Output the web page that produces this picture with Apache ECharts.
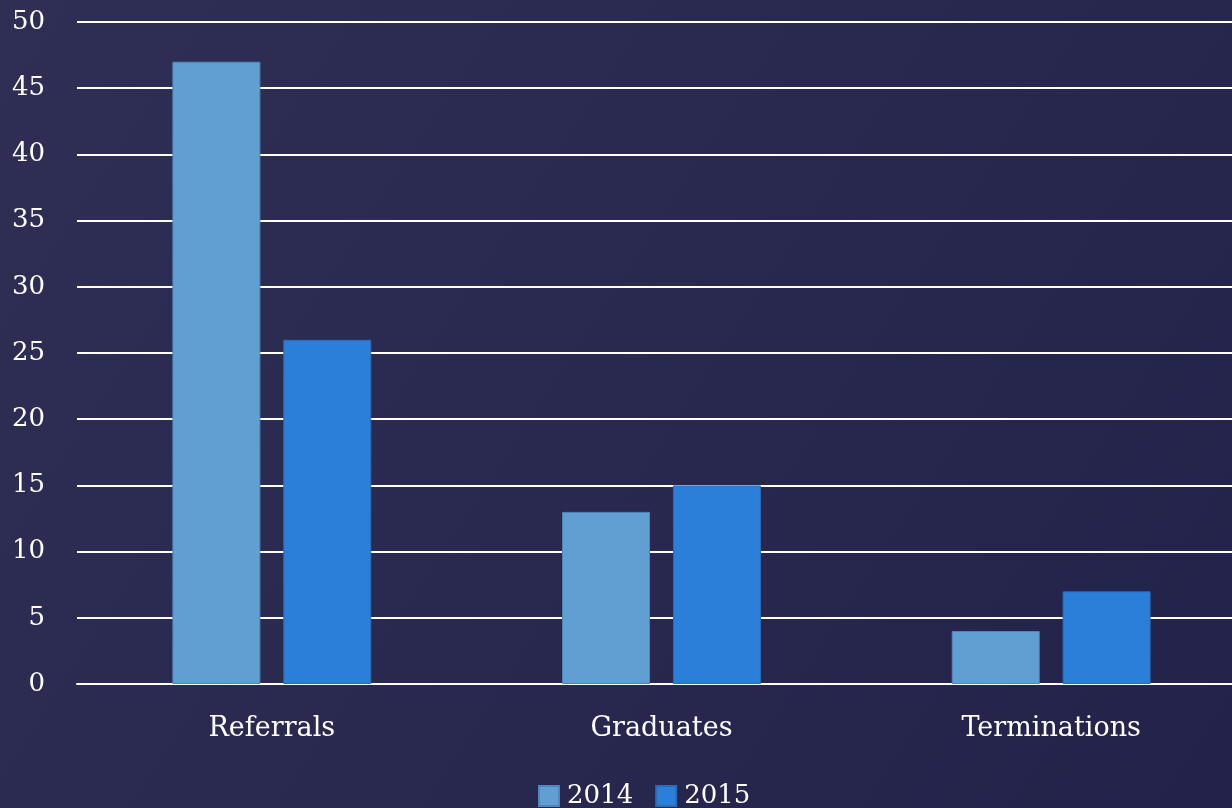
<!DOCTYPE html>
<html>
<head>
<meta charset="utf-8">
<script src="https://cdn.jsdelivr.net/npm/echarts@6/dist/echarts.min.js"></script>
<style>
html, body { margin: 0; padding: 0; }
#chart { width: 1232px; height: 808px; }
</style>
</head>
<body>
<div id="chart"></div>
<script>
var categories = ['Referrals', 'Graduates', 'Terminations'];
var years = ['2014', '2015'];
var values2014 = [47, 13, 4];
var values2015 = [26, 15, 7];

var font = 'DejaVu Serif';
var chart = echarts.init(document.getElementById('chart'));
chart.setOption({
    backgroundColor: new echarts.graphic.LinearGradient(0, 0, 1, 1, [
        { offset: 0, color: '#2f2f55' },
        { offset: 1, color: '#23224a' }
    ]),
    animation: false,
    grid: { left: 77, width: 1169, top: 22, height: 662, outerBoundsMode: 'none' },
    legend: {
        data: years,
        bottom: -6,
        left: 533,
        itemWidth: 20,
        itemHeight: 20,
        itemGap: 22,
        icon: 'rect',
        textStyle: { color: '#ffffff', fontFamily: font, fontSize: 26, padding: [0, 0, 0, 3] }
    },
    xAxis: {
        type: 'category',
        data: categories,
        axisLine: { lineStyle: { color: '#ffffff', width: 2 } },
        axisTick: { show: false },
        axisLabel: { color: '#ffffff', fontFamily: font, fontSize: 27, margin: 31 }
    },
    yAxis: {
        type: 'value',
        min: 0,
        max: 50,
        interval: 5,
        axisLine: { show: false },
        axisTick: { show: false },
        axisLabel: { color: '#ffffff', fontFamily: font, fontSize: 26, margin: 32 },
        splitLine: { lineStyle: { color: '#ffffff', width: 2 } }
    },
    series: [
        {
            name: '2014',
            type: 'bar',
            data: values2014,
            barWidth: 88,
            barGap: '26%',
            itemStyle: { color: '#619fd3', borderColor: '#4f86bd', borderWidth: 1 }
        },
        {
            name: '2015',
            type: 'bar',
            data: values2015,
            barWidth: 88,
            itemStyle: { color: '#2a7fd8', borderColor: '#2a6cb8', borderWidth: 1 }
        }
    ]
});
</script>
</body>
</html>
